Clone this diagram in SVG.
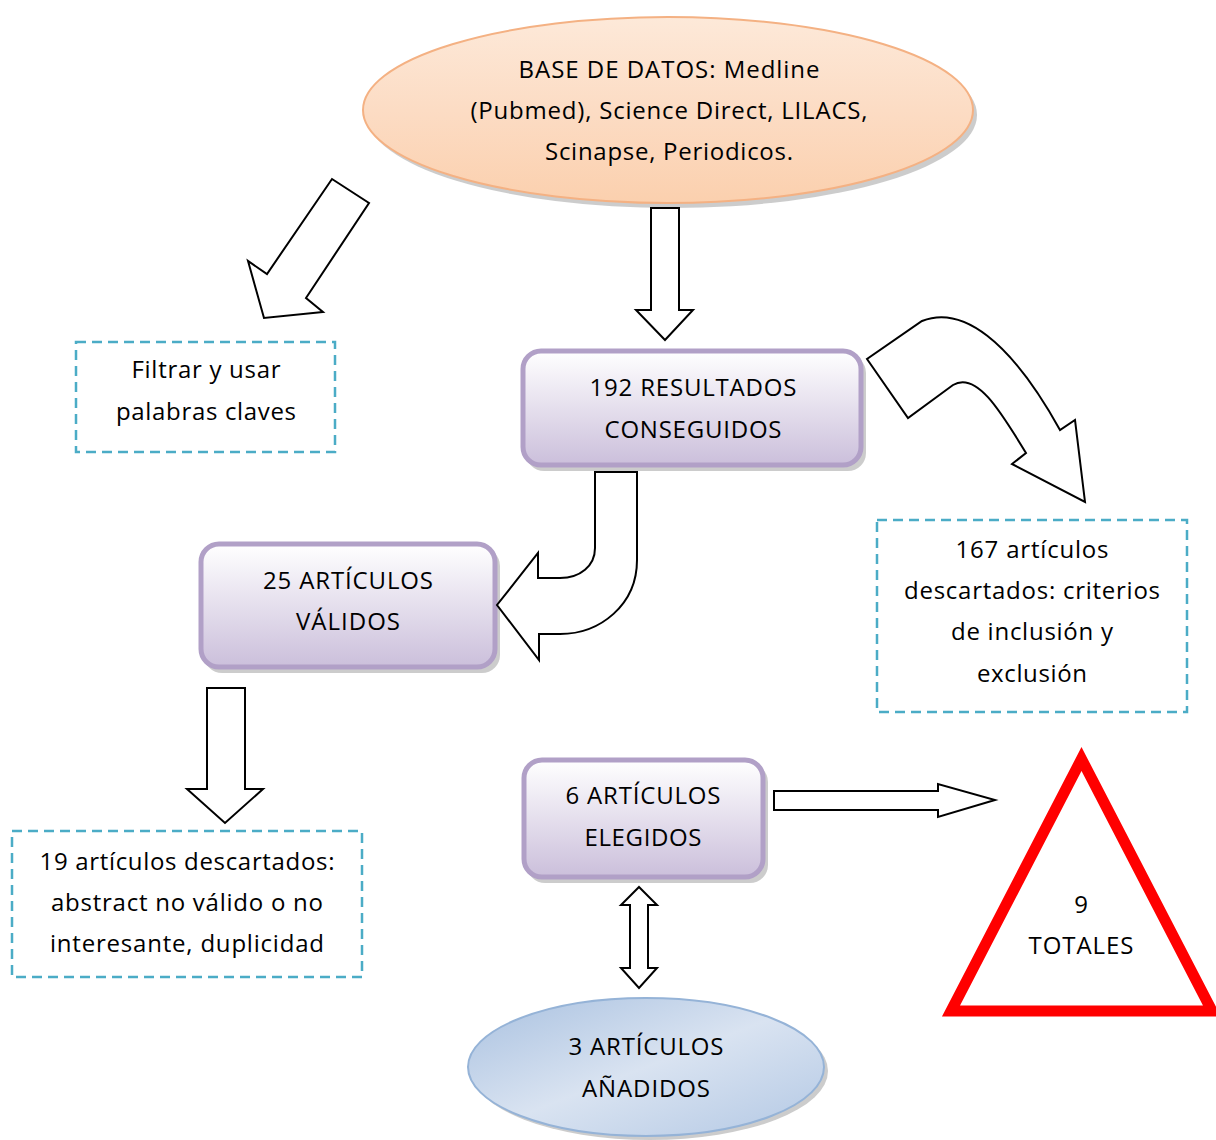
<svg xmlns="http://www.w3.org/2000/svg" width="1216" height="1140" viewBox="0 0 1216 1140">
<defs>
<linearGradient id="gPeach" x1="0" y1="0" x2="0" y2="1">
<stop offset="0" stop-color="#fde9d9"/><stop offset="0.5" stop-color="#fcdcc4"/><stop offset="1" stop-color="#fbd0ae"/>
</linearGradient>
<linearGradient id="gLav" x1="0" y1="0" x2="0" y2="1">
<stop offset="0" stop-color="#ffffff"/><stop offset="1" stop-color="#cbbfdb"/>
</linearGradient>
<linearGradient id="gBlue" x1="0" y1="0" x2="1" y2="1">
<stop offset="0" stop-color="#a9c1e0"/><stop offset="0.5" stop-color="#d9e3f1"/><stop offset="1" stop-color="#b3c8e4"/>
</linearGradient>
</defs>
<style>
text{font-family:"Open Sans","Liberation Sans",Arial,sans-serif;font-size:24px;fill:#000;text-anchor:middle}
.arrow{fill:#fff;stroke:#000;stroke-width:2;stroke-linejoin:miter}
.dash{fill:#fff;stroke:#4bacc6;stroke-width:2.5;stroke-dasharray:10 6}
.rbox{fill:url(#gLav);stroke:#b1a0c7;stroke-width:5}
.shadow{fill:#9a9a9a;opacity:0.5}
</style>

<g id="node-base">
<ellipse class="shadow" cx="672" cy="115" rx="305" ry="93"/>
<ellipse cx="668" cy="110" rx="305" ry="93" fill="url(#gPeach)" stroke="#f4b183" stroke-width="2"/>
<text x="669" y="78" textLength="301" lengthAdjust="spacing">BASE DE DATOS: Medline</text>
<text x="669" y="119" textLength="397" lengthAdjust="spacing">(Pubmed), Science Direct, LILACS,</text>
<text x="669" y="160" textLength="248" lengthAdjust="spacing">Scinapse, Periodicos.</text>
</g>

<g id="node-filtrar">
<rect class="dash" x="76" y="342" width="259" height="110"/>
<text x="206" y="378" textLength="149" lengthAdjust="spacing">Filtrar y usar</text>
<text x="206" y="420" textLength="180" lengthAdjust="spacing">palabras claves</text>
</g>

<g id="node-192">
<rect class="shadow" x="526" y="355" width="340" height="116" rx="18"/>
<rect class="rbox" x="523" y="351" width="338" height="114" rx="18"/>
<text x="693" y="396" textLength="207" lengthAdjust="spacing">192 RESULTADOS</text>
<text x="693" y="438" textLength="177" lengthAdjust="spacing">CONSEGUIDOS</text>
</g>

<g id="node-167">
<rect class="dash" x="877" y="520" width="310" height="192"/>
<text x="1032" y="558" textLength="153" lengthAdjust="spacing">167 artículos</text>
<text x="1032" y="599" textLength="256" lengthAdjust="spacing">descartados: criterios</text>
<text x="1032" y="640" textLength="162" lengthAdjust="spacing">de inclusión y</text>
<text x="1032" y="682" textLength="110" lengthAdjust="spacing">exclusión</text>
</g>

<g id="node-25">
<rect class="shadow" x="204" y="548" width="296" height="125" rx="18"/>
<rect class="rbox" x="201" y="544" width="294" height="123" rx="18"/>
<text x="348" y="589" textLength="170" lengthAdjust="spacing">25 ARTÍCULOS</text>
<text x="348" y="630" textLength="104" lengthAdjust="spacing">VÁLIDOS</text>
</g>

<g id="node-19">
<rect class="dash" x="12" y="831" width="350" height="146"/>
<text x="187" y="870" textLength="295" lengthAdjust="spacing">19 artículos descartados:</text>
<text x="187" y="911" textLength="272" lengthAdjust="spacing">abstract no válido o no</text>
<text x="187" y="952" textLength="274" lengthAdjust="spacing">interesante, duplicidad</text>
</g>

<g id="node-6">
<rect class="shadow" x="527" y="764" width="241" height="119" rx="18"/>
<rect class="rbox" x="524" y="760" width="239" height="117" rx="18"/>
<text x="643" y="804" textLength="155" lengthAdjust="spacing">6 ARTÍCULOS</text>
<text x="643" y="846" textLength="117" lengthAdjust="spacing">ELEGIDOS</text>
</g>

<g id="node-3">
<ellipse class="shadow" cx="650" cy="1071" rx="178" ry="69"/>
<ellipse cx="646" cy="1067" rx="178" ry="69" fill="url(#gBlue)" stroke="#95b3d7" stroke-width="2"/>
<text x="646" y="1055" textLength="155" lengthAdjust="spacing">3 ARTÍCULOS</text>
<text x="646" y="1097" textLength="128" lengthAdjust="spacing">AÑADIDOS</text>
</g>

<g id="node-9">
<polygon points="1081.5,759 1212,1011 951,1011" fill="#fff" stroke="#ff0000" stroke-width="11" stroke-linejoin="miter"/>
<text x="1081" y="913">9</text>
<text x="1081" y="954" textLength="105" lengthAdjust="spacing">TOTALES</text>
</g>

<g id="connectors">
<polygon class="arrow" points="651,208 679,208 679,310 693,310 665,340 636,310 651,310"/>
<polygon class="arrow" points="332,179 369,203 306,298 323,312 264,318 248,261 267,274"/>
<path class="arrow" d="M867,359 L908,418 L953,385 C976,371 1000,410 1026,453 L1012,464 L1085,502 L1075,420 L1060,430 C1010,340 962,305 922,321 Z"/>
<path class="arrow" d="M595,472 L637,472 L637,560 C637,605 600,634 560,634 L539,634 L539,660 L497,605 L538,553 L538,578 L560,578 C580,578 595,566 595,548 Z"/>
<polygon class="arrow" points="207,688 245,688 245,789 263,789 225,823 187,789 207,789"/>
<polygon class="arrow" points="774,791 938,791 938,784 995,800 938,817 938,810 774,810"/>
<polygon class="arrow" points="639,887 657,905 648,905 648,968 657,968 639,988 621,968 630,968 630,905 621,905"/>
</g>
</svg>
